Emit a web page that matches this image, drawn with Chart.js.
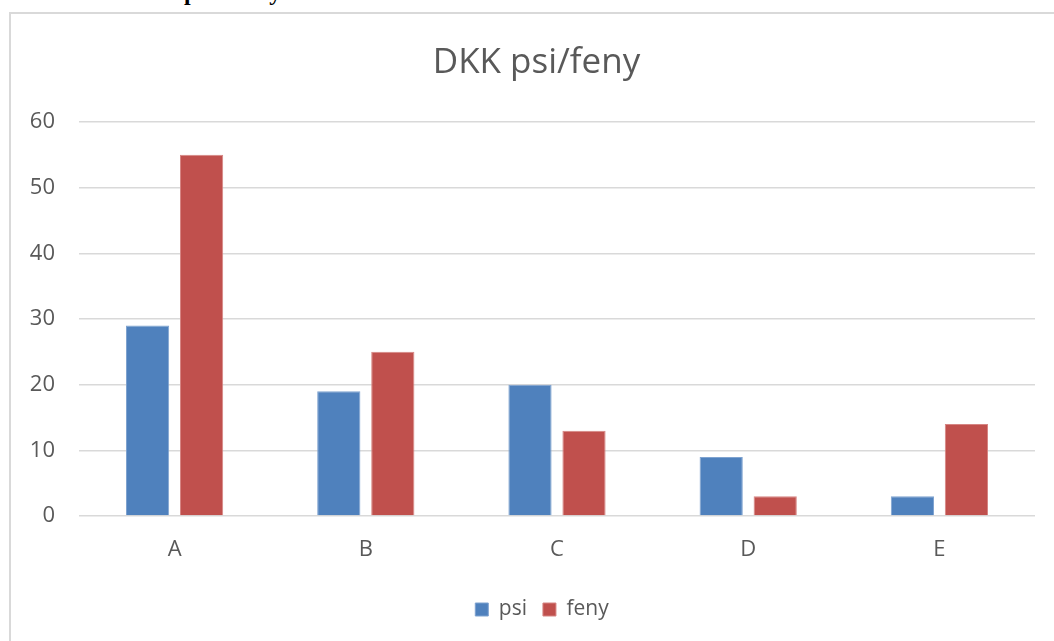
<!DOCTYPE html>
<html>
<head>
<meta charset="utf-8">
<script src="https://cdn.jsdelivr.net/npm/chart.js@4.4.1/dist/chart.umd.min.js"></script>
<style>
  html, body { margin: 0; padding: 0; background: #fff; overflow: hidden; }
  #page { position: relative; width: 1054px; height: 641px; }
  #docline {
    position: absolute; left: 184px; top: -21px;
    font: bold 24px "Liberation Serif", serif; color: #000; white-space: nowrap;
  }
  #box {
    position: absolute; left: 9px; top: 12px; width: 1100px; height: 700px;
    border: 2px solid #d9d9d9; box-sizing: border-box;
  }
  #wrap { position: absolute; left: 0; top: 0; width: 1054px; height: 641px; }
</style>
</head>
<body>
<div id="page">
  <div id="docline">psi a feny</div>
  <div id="box"></div>
  <div id="wrap"><canvas id="dkkChart"></canvas></div>
</div>
<script>
// Categories and series values
const categories = ["A", "B", "C", "D", "E"];
const psiValues = [29, 19, 20, 9, 3];
const fenyValues = [55, 25, 13, 3, 14];
const yTicks = [0, 10, 20, 30, 40, 50, 60];

const textColor = "#595959";
const fontFamily = "'Open Sans', sans-serif";

const data = {
  labels: categories,
  datasets: [
    {
      label: "psi",
      data: psiValues,
      backgroundColor: "#4F81BD",
      borderColor: "#7fa3d0",
      borderWidth: 1,
      categoryPercentage: 0.565,
      barPercentage: 0.8
    },
    {
      label: "feny",
      data: fenyValues,
      backgroundColor: "#C0504D",
      borderColor: "#d68583",
      borderWidth: 1,
      categoryPercentage: 0.565,
      barPercentage: 0.8
    }
  ]
};

// shift title and legend a bit right, Excel centres them on the frame not the canvas
const recenter = {
  id: "recenter",
  afterLayout(chart) {
    chart.titleBlock.left = 38;
    chart.legend.left = 49;
  }
};

const config = {
  type: "bar",
  data: data,
  plugins: [recenter],
  options: {
    responsive: true,
    maintainAspectRatio: false,
    animation: false,
    layout: {
      padding: { left: 0, right: 19, top: 0, bottom: 11 }
    },
    scales: {
      y: {
        min: 0,
        max: 60,
        afterFit: function(scale) { scale.width = 79; },
        afterBuildTicks: function(scale) {
          scale.ticks = yTicks.map(v => ({ value: v }));
        },
        border: { display: false },
        grid: {
          color: "#d9d9d9",
          lineWidth: 1.5,
          drawTicks: false
        },
        ticks: {
          color: textColor,
          padding: 24,
          font: { family: fontFamily, size: 22 }
        }
      },
      x: {
        border: { display: false },
        grid: { display: false, drawTicks: false },
        afterFit: function(scale) { scale.height = 67; },
        ticks: {
          color: textColor,
          padding: 21,
          font: { family: fontFamily, size: 22 }
        }
      }
    },
    plugins: {
      title: {
        display: true,
        text: "DKK psi/feny",
        color: textColor,
        padding: { top: 42, bottom: 38 },
        font: { family: fontFamily, size: 35, weight: "normal" }
      },
      legend: {
        position: "bottom",
        labels: {
          color: textColor,
          font: { family: fontFamily, size: 21 },
          boxWidth: 13,
          boxHeight: 13,
          padding: 16
        }
      },
      tooltip: { enabled: false }
    }
  }
};

new Chart(document.getElementById("dkkChart"), config);
</script>
</body>
</html>
